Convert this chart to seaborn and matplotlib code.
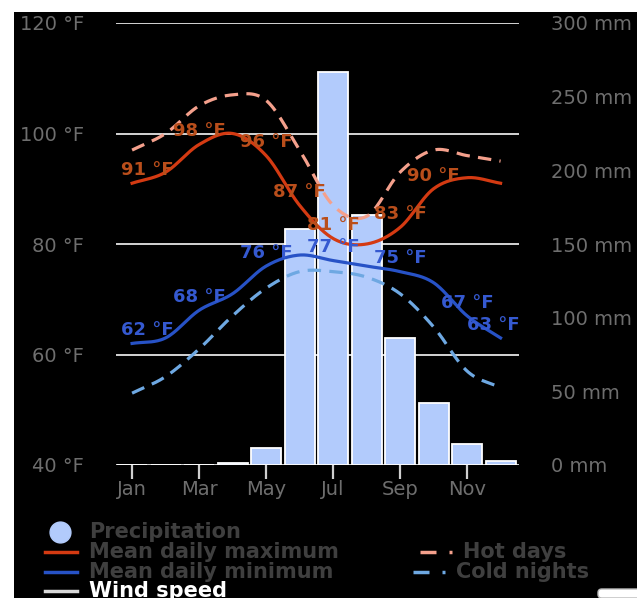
import numpy as np
import pandas as pd
import matplotlib
matplotlib.use('Agg')
import matplotlib.pyplot as plt
import seaborn as sns
from matplotlib.lines import Line2D
from matplotlib.patches import Rectangle, FancyBboxPatch
from matplotlib.transforms import blended_transform_factory

# data
months = ['Jan', 'Feb', 'Mar', 'Apr', 'May', 'Jun', 'Jul', 'Aug', 'Sep', 'Oct', 'Nov', 'Dec']
precip_mm = [0, 0, 0, 1.5, 11.5, 160, 267, 170, 86, 42, 14, 3]
temp_max = [91, 93, 98, 100, 96, 87, 81, 80, 83, 90, 92, 91]
temp_min = [62, 63, 68, 71, 76, 78, 77, 76, 75, 73, 67, 63]
hot_days = [97, 100, 105, 107, 106, 97, 87, 85, 93, 97, 96, 95]
cold_nights = [53, 56, 61, 67, 72, 75, 75, 74, 71, 65, 57, 54]

# which points carry a value label (others hidden by overlap in the original)
max_label_months = [0, 2, 4, 5, 6, 8, 9]
min_label_months = [0, 2, 4, 6, 8, 10, 11]

temp_ticks = [40, 60, 80, 100, 120]
mm_ticks = [0, 50, 100, 150, 200, 250, 300]

c_bar = '#b2cbfc'
c_max = '#d43a12'
c_min = '#2752c6'
c_hot = '#f4a08c'
c_cold = '#6ea8e2'
c_maxlab = '#b94e1b'
c_minlab = '#3559d0'
c_tick = '#6e6e6e'
c_grid = '#d4d4d4'

plt.rcParams['font.family'] = ['DejaVu Sans']

W, H = 637, 598


def fx(p):
    return p / W


def fy(p):
    return 1 - p / H


def smooth(vals, n=30):
    # cubic hermite spline through the monthly points (like a spline series)
    y = np.asarray(vals, dtype=float)
    m = np.gradient(y)
    xs, ys = [], []
    for i in range(len(y) - 1):
        t = np.linspace(0, 1, n, endpoint=(i == len(y) - 2))
        h00 = 2 * t**3 - 3 * t**2 + 1
        h10 = t**3 - 2 * t**2 + t
        h01 = -2 * t**3 + 3 * t**2
        h11 = t**3 - t**2
        xs.append(i + t)
        ys.append(h00 * y[i] + h10 * m[i] + h01 * y[i + 1] + h11 * m[i + 1])
    return np.concatenate(xs), np.concatenate(ys)


fig = plt.figure(figsize=(W / 100, H / 100), dpi=100, facecolor='white')
fig.add_artist(Rectangle((fx(14), 0), 1, fy(12), transform=fig.transFigure,
                         facecolor='black', edgecolor='none', zorder=0))

ax_p = fig.add_axes([fx(116), 1 - 465 / H, 403 / W, 442 / H])
ax_p.set_facecolor('black')

df = pd.DataFrame({'pos': np.arange(len(months)), 'precip': precip_mm})
sns.barplot(data=df, x='pos', y='precip', native_scale=True, width=0.9,
            color=c_bar, saturation=1, edgecolor='white', linewidth=1.3,
            ax=ax_p, zorder=2)

ax_t = ax_p.twinx()
ax_p.set_ylim(0, 300)
ax_t.set_ylim(40, 120)
ax_p.set_xlim(-0.48, 11.55)

# horizontal grid for the temperature scale, behind the bars
tr = blended_transform_factory(ax_p.transAxes, ax_t.transData)
for t in temp_ticks:
    ax_p.add_line(Line2D([0, 1], [t, t], transform=tr, color=c_grid, lw=1.4, zorder=1))

for vals, col in [(cold_nights, c_cold), (hot_days, c_hot)]:
    xs, ys = smooth(vals)
    ax_t.plot(xs, ys, color=col, lw=2.3, dashes=(4.2, 2.6), solid_capstyle='butt', zorder=3)
for vals, col in [(temp_min, c_min), (temp_max, c_max)]:
    xs, ys = smooth(vals)
    ax_t.plot(xs, ys, color=col, lw=2.3, zorder=4)


def label_offset(i):
    # keep the edge labels inside the plot area
    if i == 0:
        return 11
    if i == len(months) - 1:
        return -5
    return 0


for i in max_label_months:
    ax_t.annotate(f'{temp_max[i]} °F', (i, temp_max[i]), xytext=(label_offset(i), 9.5),
                  textcoords='offset points', ha='center', va='center',
                  fontsize=13, fontweight='bold', color=c_maxlab, zorder=6)
for i in min_label_months:
    ax_t.annotate(f'{temp_min[i]} °F', (i, temp_min[i]), xytext=(label_offset(i), 9.5),
                  textcoords='offset points', ha='center', va='center',
                  fontsize=13, fontweight='bold', color=c_minlab, zorder=6)

# axes cosmetics
for a in (ax_p, ax_t):
    for s in a.spines.values():
        s.set_visible(False)
    a.set_xlabel('')
    a.set_ylabel('')

ax_p.set_xticks(np.arange(0, len(months), 2))
ax_p.set_xticklabels(months[::2])
ax_p.tick_params(axis='x', length=10, width=1.6, color='#cfcfcf', labelcolor=c_tick,
                 labelsize=14, pad=1)

ax_p.yaxis.tick_right()
ax_p.set_yticks(mm_ticks)
ax_p.set_yticklabels([f'{v} mm' for v in mm_ticks])
ax_p.tick_params(axis='y', length=0, pad=23, labelsize=14, labelcolor=c_tick)

ax_t.yaxis.tick_left()
ax_t.set_yticks(temp_ticks)
ax_t.set_yticklabels([f'{v} °F' for v in temp_ticks])
ax_t.tick_params(axis='y', length=0, pad=23, labelsize=14, labelcolor=c_tick)

# legend, laid out like the original
leg_font = dict(fontsize=15, fontweight='bold', va='center', ha='left', color='#3f3f3f')
fig.add_artist(Line2D([fx(60)], [fy(532)], marker='o', ms=15, color=c_bar,
                      transform=fig.transFigure))
fig.text(fx(89), fy(532), 'Precipitation', **leg_font)
for yy, col, name in [(552, c_max, 'Mean daily maximum'), (572, c_min, 'Mean daily minimum')]:
    fig.add_artist(Line2D([fx(45), fx(77)], [fy(yy), fy(yy)], color=col, lw=2.5,
                          transform=fig.transFigure))
    fig.text(fx(89), fy(yy), name, **leg_font)
fig.add_artist(Line2D([fx(45), fx(77)], [fy(591), fy(591)], color='#d8d8d8', lw=2.5,
                      transform=fig.transFigure))
fig.text(fx(89), fy(591), 'Wind speed', **{**leg_font, 'color': 'white'})

for yy, x0, col, name in [(552, 420, c_hot, 'Hot days'), (572, 413, c_cold, 'Cold nights')]:
    fig.add_artist(Line2D([fx(x0), fx(x0 + 16)], [fy(yy), fy(yy)], color=col, lw=2.5,
                          transform=fig.transFigure, solid_capstyle='butt'))
    fig.add_artist(Line2D([fx(x0 + 29), fx(x0 + 32)], [fy(yy), fy(yy)], color=col, lw=2.5,
                          transform=fig.transFigure, solid_capstyle='butt'))
    fig.text(fx(x0 + 43), fy(yy), name, **leg_font)

# small white box in the lower-right corner of the screenshot
fig.add_artist(FancyBboxPatch((fx(598), fy(598)), fx(50), 9 / H,
                              boxstyle='round,pad=0,rounding_size=0.006',
                              transform=fig.transFigure, facecolor='white',
                              edgecolor='#bbbbbb', lw=1))

fig.savefig('out.png', dpi=100, facecolor=fig.get_facecolor())
